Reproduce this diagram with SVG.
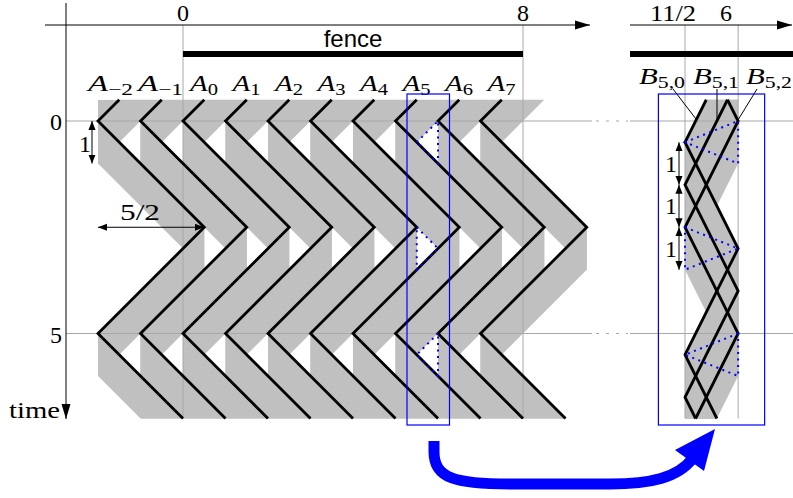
<svg xmlns="http://www.w3.org/2000/svg" width="793" height="498" viewBox="0 0 793 498">
<defs>
<style>
.g{fill:#c0c0c0}
.grid{stroke:#a8a8a8;stroke-width:1;fill:none}
.dash{stroke:#a8a8a8;stroke-width:1;fill:none;stroke-dasharray:3 7}
.zz{stroke:#000;stroke-width:2.8;fill:none;stroke-linejoin:miter}
.t{font-family:"Liberation Serif","DejaVu Serif",serif;font-size:24px;fill:#000}
.it{font-style:italic}
.sub{font-size:17px;font-style:normal}
.axa{stroke:#000;stroke-width:1;fill:none;marker-end:url(#axh)}
.dim{stroke:#000;stroke-width:1;fill:none;marker-start:url(#ah);marker-end:url(#ah)}
.lead{stroke:#000;stroke-width:1;fill:none}
.box{stroke:#0000ff;stroke-width:1.2;fill:none}
.dot{stroke:#0000ff;stroke-width:2;fill:none;stroke-dasharray:2 4.5}
.fence{stroke:#000;stroke-width:6;fill:none}
.sans{font-family:"Liberation Sans","DejaVu Sans",sans-serif;font-size:24px;fill:#000}
</style>
<marker id="ah" viewBox="0 0 10 10" refX="10" refY="5" markerWidth="9" markerHeight="9" orient="auto-start-reverse" markerUnits="userSpaceOnUse">
<path d="M0,1 L10,5 L0,9 z" fill="#000"/>
</marker>
<marker id="axh" viewBox="0 0 10 10" refX="10" refY="5" markerWidth="15" markerHeight="15" orient="auto" markerUnits="userSpaceOnUse">
<path d="M0,2 L10,5 L0,8 z" fill="#000"/>
</marker>
<clipPath id="clipL"><rect x="60" y="99.75" width="540" height="319"/></clipPath>
<clipPath id="clipR"><rect x="660" y="99.75" width="100" height="319"/></clipPath>
<g id="band">
<polygon points="0,121 106.25,14.75 106.25,57.25 0,163.5"/>
<polygon points="0,121 106.25,227.25 106.25,269.75 0,163.5"/>
<polygon points="0,333.5 106.25,227.25 106.25,269.75 0,376"/>
<polygon points="0,333.5 85,418.5 85,461 0,376"/>
</g>
<path id="zz" d="M21.25,99.75 L0,121 L106.25,227.25 L0,333.5 L85,418.5"/>
</defs>

<g id="coverage-left" class="g" clip-path="url(#clipL)">
<polygon points="98,99.75 119.25,99.75 98,121"/>
<use href="#band" x="98"/>
<use href="#band" x="140.5"/>
<use href="#band" x="183"/>
<use href="#band" x="225.5"/>
<use href="#band" x="268"/>
<use href="#band" x="310.5"/>
<use href="#band" x="353"/>
<use href="#band" x="395.5"/>
<use href="#band" x="438"/>
<use href="#band" x="480.5"/>
</g>

<g id="coverage-right" class="g" clip-path="url(#clipR)">
<polygon points="685,14.75 738.125,121 738.125,163.5 685,57.25"/>
<polygon points="685,227.25 738.125,121 738.125,163.5 685,269.75"/>
<polygon points="685,227.25 738.125,333.5 738.125,376 685,269.75"/>
<polygon points="685,439.75 738.125,333.5 738.125,376 685,482.25"/>
<polygon points="685,142.25 738.125,36 738.125,78.5 685,184.75"/>
<polygon points="685,142.25 738.125,248.5 738.125,291 685,184.75"/>
<polygon points="685,354.75 738.125,248.5 738.125,291 685,397.25"/>
<polygon points="685,354.75 738.125,461 738.125,503.5 685,397.25"/>
<polygon points="685,-27.75 738.125,78.5 738.125,121 685,14.75"/>
<polygon points="685,184.75 738.125,78.5 738.125,121 685,227.25"/>
<polygon points="685,184.75 738.125,291 738.125,333.5 685,227.25"/>
<polygon points="685,397.25 738.125,291 738.125,333.5 685,439.75"/>
<polygon points="685,397.25 738.125,503.5 738.125,546 685,439.75"/>
</g>

<g id="grid">
<line class="grid" x1="66" y1="121" x2="592" y2="121"/>
<line class="grid" x1="66" y1="333.5" x2="592" y2="333.5"/>
<line class="dash" x1="596" y1="121" x2="628" y2="121"/>
<line class="dash" x1="596" y1="333.5" x2="628" y2="333.5"/>
<line class="grid" x1="630" y1="121" x2="793" y2="121"/>
<line class="grid" x1="630" y1="333.5" x2="793" y2="333.5"/>
<line class="grid" x1="183" y1="25" x2="183" y2="418.5"/>
<line class="grid" x1="523" y1="25" x2="523" y2="418.5"/>
<line class="grid" x1="685" y1="25" x2="685" y2="418.5"/>
<line class="grid" x1="738.125" y1="25" x2="738.125" y2="418.5"/>
</g>

<g id="axes">
<line class="axa" x1="66" y1="3" x2="66" y2="419"/>
<line class="axa" x1="45" y1="25" x2="590" y2="25"/>
<line class="axa" x1="630" y1="25" x2="792" y2="25"/>
<text class="t" x="183" y="21" text-anchor="middle">0</text>
<text class="t" x="523" y="21" text-anchor="middle">8</text>
<text class="t" x="650" y="21" textLength="46" lengthAdjust="spacingAndGlyphs">11/2</text>
<text class="t" x="726" y="21" text-anchor="middle">6</text>
<text class="t" x="56" y="130" text-anchor="middle">0</text>
<text class="t" x="56" y="343" text-anchor="middle">5</text>
<text class="t" x="9" y="418" textLength="51" lengthAdjust="spacingAndGlyphs">time</text>
</g>

<g id="fence">
<line class="fence" x1="183" y1="54" x2="523" y2="54"/>
<line class="fence" x1="630" y1="54" x2="793" y2="54"/>
<text class="sans" x="353" y="47" text-anchor="middle">fence</text>
</g>

<g id="A-2" class="zz"><use href="#zz" x="98"/><text class="t it" stroke="none" x="88" y="91" textLength="45" lengthAdjust="spacingAndGlyphs">A<tspan class="sub" dy="4">−2</tspan></text></g>
<g id="A-1" class="zz"><use href="#zz" x="140.5"/><text class="t it" stroke="none" x="138" y="91" textLength="45" lengthAdjust="spacingAndGlyphs">A<tspan class="sub" dy="4">−1</tspan></text></g>
<g id="A0" class="zz"><use href="#zz" x="183"/><text class="t it" stroke="none" x="190" y="91" textLength="28" lengthAdjust="spacingAndGlyphs">A<tspan class="sub" dy="4">0</tspan></text></g>
<g id="A1" class="zz"><use href="#zz" x="225.5"/><text class="t it" stroke="none" x="232.5" y="91" textLength="28" lengthAdjust="spacingAndGlyphs">A<tspan class="sub" dy="4">1</tspan></text></g>
<g id="A2" class="zz"><use href="#zz" x="268"/><text class="t it" stroke="none" x="275" y="91" textLength="28" lengthAdjust="spacingAndGlyphs">A<tspan class="sub" dy="4">2</tspan></text></g>
<g id="A3" class="zz"><use href="#zz" x="310.5"/><text class="t it" stroke="none" x="317.5" y="91" textLength="28" lengthAdjust="spacingAndGlyphs">A<tspan class="sub" dy="4">3</tspan></text></g>
<g id="A4" class="zz"><use href="#zz" x="353"/><text class="t it" stroke="none" x="360" y="91" textLength="28" lengthAdjust="spacingAndGlyphs">A<tspan class="sub" dy="4">4</tspan></text></g>
<g id="A5" class="zz"><use href="#zz" x="395.5"/><text class="t it" stroke="none" x="402.5" y="91" textLength="28" lengthAdjust="spacingAndGlyphs">A<tspan class="sub" dy="4">5</tspan></text></g>
<g id="A6" class="zz"><use href="#zz" x="438"/><text class="t it" stroke="none" x="445" y="91" textLength="28" lengthAdjust="spacingAndGlyphs">A<tspan class="sub" dy="4">6</tspan></text></g>
<g id="A7" class="zz"><use href="#zz" x="480.5"/><text class="t it" stroke="none" x="487.5" y="91" textLength="28" lengthAdjust="spacingAndGlyphs">A<tspan class="sub" dy="4">7</tspan></text></g>

<g id="B50">
<path class="zz" d="M706.25,99.75 L685,142.25 L738.125,248.5 L685,354.75 L716.875,418.5"/>
<line class="lead" x1="673" y1="89" x2="696" y2="119"/>
<text class="t it" x="639" y="84" textLength="46" lengthAdjust="spacingAndGlyphs">B<tspan class="sub" dy="4">5,0</tspan></text>
</g>
<g id="B51">
<path class="zz" d="M727.5,99.75 L685,184.75 L738.125,291 L685,397.25 L695.625,418.5"/>
<line class="lead" x1="717" y1="89" x2="717" y2="120"/>
<text class="t it" x="693" y="84" textLength="46" lengthAdjust="spacingAndGlyphs">B<tspan class="sub" dy="4">5,1</tspan></text>
</g>
<g id="B52">
<path class="zz" d="M727.5,99.75 L738.125,121 L685,227.25 L738.125,333.5 L695.625,418.5"/>
<line class="lead" x1="757" y1="89" x2="738" y2="120"/>
<text class="t it" x="746" y="84" textLength="46" lengthAdjust="spacingAndGlyphs">B<tspan class="sub" dy="4">5,2</tspan></text>
</g>

<g id="holes">
<polygon class="dot" points="416.75,142.25 438,121 438,163.5"/>
<polygon class="dot" points="416.75,227.25 438,248.5 416.75,269.75"/>
<polygon class="dot" points="438,333.5 416.75,354.75 438,376"/>
<polygon class="dot" points="685,142.25 738.125,121 738.125,163.5"/>
<polygon class="dot" points="685,227.25 738.125,248.5 685,269.75"/>
<polygon class="dot" points="738.125,333.5 685,354.75 738.125,376"/>
</g>

<g id="dimensions">
<line class="dim" x1="92" y1="121" x2="92" y2="163.5"/>
<text class="t" x="85" y="152" text-anchor="middle">1</text>
<line class="dim" x1="98" y1="227.25" x2="204" y2="227.25"/>
<text class="t" x="120" y="220" textLength="40" lengthAdjust="spacingAndGlyphs">5/2</text>
<line class="dim" x1="679" y1="142.25" x2="679" y2="184.75"/>
<line class="dim" x1="679" y1="184.75" x2="679" y2="227.25"/>
<line class="dim" x1="679" y1="227.25" x2="679" y2="269.75"/>
<text class="t" x="671" y="172" text-anchor="middle">1</text>
<text class="t" x="671" y="214" text-anchor="middle">1</text>
<text class="t" x="671" y="257" text-anchor="middle">1</text>
</g>

<g id="zoom-boxes">
<rect class="box" x="407" y="94" width="42.5" height="331"/>
<rect class="box" x="658.4" y="94" width="106.25" height="331"/>
</g>

<g id="connector">
<path d="M434,441 V452 C434,478 455,484 510,484 H610 C650,484 678,478 693,458" stroke="#0000ff" stroke-width="11" fill="none"/>
<polygon points="715,429 704,471 675,450" fill="#0000ff"/>
</g>
</svg>
